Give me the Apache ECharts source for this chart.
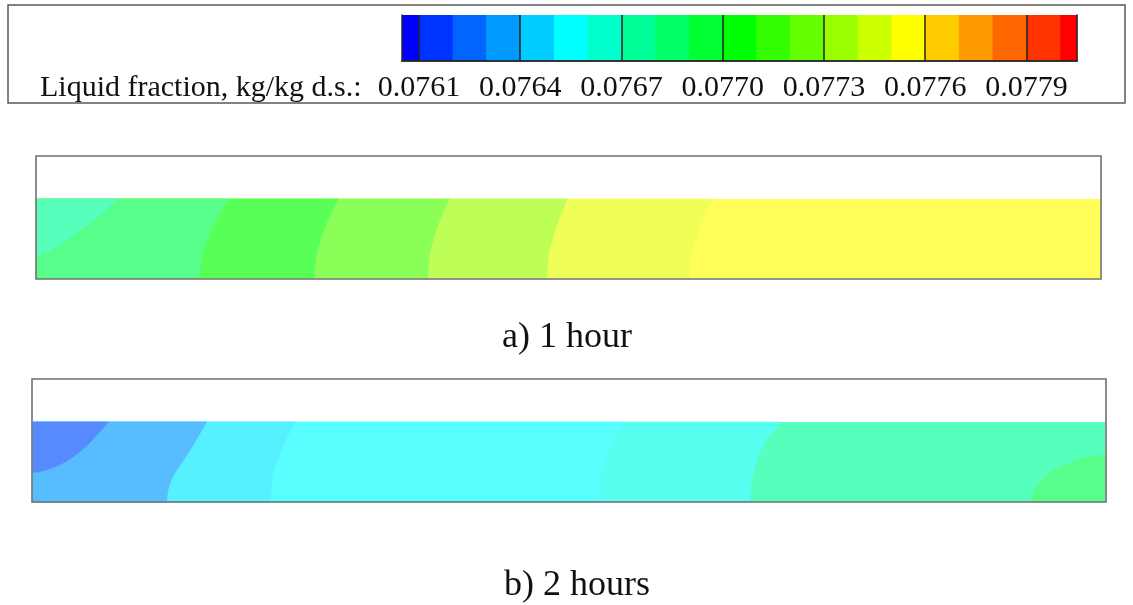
<!DOCTYPE html>
<html>
<head>
<meta charset="utf-8">
<script src="https://cdn.jsdelivr.net/npm/echarts@6/dist/echarts.min.js"></script>
<style>
  html, body { margin: 0; padding: 0; background: #ffffff; }
  #chart { width: 1133px; height: 605px; }
</style>
</head>
<body>
<div id="chart"></div>
<script>
// Liquid fraction contour levels, kg/kg d.s.
const colorbarRange = [0.07605, 0.07805];
const contourLevels = [0.0761, 0.0762, 0.0763, 0.0764, 0.0765, 0.0766, 0.0767, 0.0768, 0.0769, 0.0770,
                       0.0771, 0.0772, 0.0773, 0.0774, 0.0775, 0.0776, 0.0777, 0.0778, 0.0779, 0.0780];
const levelColors = ['#0000ff', '#0033ff', '#0066ff', '#0099ff', '#00ccff', '#00ffff', '#00ffcc',
                     '#00ff99', '#00ff66', '#00ff33', '#00ff00', '#33ff00', '#66ff00', '#99ff00',
                     '#ccff00', '#ffff00', '#ffcc00', '#ff9900', '#ff6600', '#ff3300', '#ff0000'];
const tickLabels = [0.0761, 0.0764, 0.0767, 0.0770, 0.0773, 0.0776, 0.0779];

// Bed after 1 hour. Coordinates: x along the bed (0..1), y up the bed height (0..1).
// Each isoline is filled with its band value on the side towards the left wall / corner.
const hour1Base = 0.07745;
const hour1Fill = [0.07735, 0.07725, 0.07715, 0.07705, 0.07695, 0.07685];
const hour1Lines = [
  [[0.6362, 1], [0.6279, 0.78], [0.6204, 0.52], [0.6154, 0.27], [0.6136, 0]],
  [[0.4992, 1], [0.4919, 0.78], [0.4854, 0.52], [0.4811, 0.27], [0.4795, 0]],
  [[0.3879, 1], [0.3802, 0.78], [0.3734, 0.52], [0.3689, 0.27], [0.3672, 0]],
  [[0.2834, 1], [0.2750, 0.78], [0.2675, 0.52], [0.2625, 0.27], [0.2606, 0]],
  [[0.1809, 1], [0.1705, 0.78], [0.1612, 0.52], [0.1550, 0.27], [0.1527, 0]],
  [[0.0755, 1], [0.0577, 0.776], [0.0373, 0.566], [0.0185, 0.395], [0, 0.278]]
];

// Bed after 2 hours
const hour2Base = 0.07685;
const hour2Fill = [0.07675, 0.07655, 0.07635, 0.07625, 0.07615, 0.07695];
const hour2Lines = [
  [[0.6984, 1], [0.6844, 0.78], [0.6751, 0.52], [0.6704, 0.27], [0.6688, 0]],
  [[0.5507, 1], [0.5413, 0.78], [0.5336, 0.52], [0.5289, 0.27], [0.5273, 0]],
  [[0.2444, 1], [0.2366, 0.80], [0.2288, 0.55], [0.2232, 0.30], [0.2214, 0]],
  [[0.1620, 1], [0.1511, 0.751], [0.1402, 0.519], [0.1309, 0.329], [0.1262, 0.161], [0.1247, 0]],
  [[0.0703, 1], [0.0594, 0.835], [0.0454, 0.646], [0.0268, 0.477], [0.0081, 0.384], [0, 0.371]],
  [[0.9307, 0], [0.9363, 0.203], [0.9518, 0.392], [0.9736, 0.519], [0.9890, 0.57], [1, 0.59]]
];

const FONT = '"Liberation Serif", "Times New Roman", serif';

// band edges and the lighter shade used inside the bed plots
const bandEdges = [colorbarRange[0]].concat(contourLevels, [colorbarRange[1]]);
function lighten(hex) {
  const n = parseInt(hex.slice(1), 16);
  const ch = [(n >> 16) & 255, (n >> 8) & 255, n & 255].map(c => Math.min(255, c + 0x57));
  return 'rgb(' + ch.join(',') + ')';
}
const barPieces = levelColors.map((c, i) => ({ gte: bandEdges[i], lt: bandEdges[i + 1], color: c }));
const fieldPieces = levelColors.map((c, i) => ({ gte: bandEdges[i], lt: bandEdges[i + 1], color: lighten(c) }));

// position of a boundary point along the domain perimeter (counter-clockwise from (0,0))
function perim(p) {
  const e = 1e-6;
  if (p[1] <= e) return p[0];
  if (p[0] >= 1 - e) return 1 + p[1];
  if (p[1] >= 1 - e) return 2 + (1 - p[0]);
  return 3 + (1 - p[1]);
}
const cornerPts = [[0, 0], [1, 0], [1, 1], [0, 1]];

function regionPath(pts, api) {
  const px = pts.map(p => api.coord(p));
  let d = 'M' + px[0][0] + ' ' + px[0][1];
  for (let i = 0; i < px.length - 1; i++) {
    const p0 = px[i - 1] || px[i], p1 = px[i], p2 = px[i + 1], p3 = px[i + 2] || px[i + 1];
    const c1 = [p1[0] + (p2[0] - p0[0]) / 6, p1[1] + (p2[1] - p0[1]) / 6];
    const c2 = [p2[0] - (p3[0] - p1[0]) / 6, p2[1] - (p3[1] - p1[1]) / 6];
    d += ' C' + c1[0] + ' ' + c1[1] + ' ' + c2[0] + ' ' + c2[1] + ' ' + p2[0] + ' ' + p2[1];
  }
  // walk back along the domain edge, clockwise, from the end of the isoline to its start
  const ts = perim(pts[0]);
  let te = perim(pts[pts.length - 1]);
  if (ts >= te) te += 4;
  for (let k = 7; k >= 0; k--) {
    if (k > ts && k < te) {
      const c = api.coord(cornerPts[k % 4]);
      d += ' L' + c[0] + ' ' + c[1];
    }
  }
  return d + ' Z';
}

function fieldSeries(gridIdx, base, fills, lines) {
  const data = [[base, -1]].concat(fills.map((v, i) => [v, i]));
  return {
    type: 'custom',
    xAxisIndex: gridIdx,
    yAxisIndex: gridIdx,
    silent: true,
    data: data,
    renderItem: function (params, api) {
      const idx = api.value(1);
      const color = api.visual('color');
      if (idx < 0) {
        const a = api.coord([0, 1]), b = api.coord([1, 0]);
        return { type: 'rect', shape: { x: a[0], y: a[1], width: b[0] - a[0], height: b[1] - a[1] },
                 style: { fill: color } };
      }
      return { type: 'path', shape: { pathData: regionPath(lines[idx], api) },
               style: { fill: color, stroke: color, lineWidth: 0.6 } };
    }
  };
}

const chart = echarts.init(document.getElementById('chart'));

const hiddenAxis = (g) => ({ type: 'value', gridIndex: g, min: 0, max: 1, show: false });
const plainLine = { show: true, lineStyle: { color: '#2a2a2a', width: 1.5 } };

chart.setOption({
  animation: false,
  backgroundColor: '#ffffff',
  grid: [
    { left: 402, top: 15, width: 675, height: 46 },
    { left: 37, top: 199, width: 1063, height: 79 },
    { left: 33, top: 422, width: 1072, height: 80 }
  ],
  xAxis: [
    {
      type: 'value', gridIndex: 0, position: 'bottom', min: colorbarRange[0], max: colorbarRange[1], z: 5,
      axisLine: plainLine,
      axisTick: { show: true, customValues: tickLabels, inside: true, length: 46,
                  lineStyle: { color: '#222', width: 1.5 } },
      axisLabel: { customValues: tickLabels, formatter: v => v.toFixed(4), margin: 12,
                   fontFamily: FONT, fontSize: 30, color: '#111' },
      splitLine: { show: false }
    },
    {
      type: 'value', gridIndex: 0, position: 'top', min: colorbarRange[0], max: colorbarRange[1], z: 5,
      axisLine: plainLine, axisTick: { show: false }, axisLabel: { show: false }, splitLine: { show: false }
    },
    hiddenAxis(1), hiddenAxis(2)
  ],
  yAxis: [
    { type: 'value', gridIndex: 0, min: 0, max: 1, position: 'left', z: 5, axisLine: plainLine,
      axisTick: { show: false }, axisLabel: { show: false }, splitLine: { show: false } },
    { type: 'value', gridIndex: 0, min: 0, max: 1, position: 'right', z: 5, axisLine: plainLine,
      axisTick: { show: false }, axisLabel: { show: false }, splitLine: { show: false } },
    hiddenAxis(1), hiddenAxis(2)
  ],
  visualMap: [
    { type: 'piecewise', show: false, seriesIndex: 0, dimension: 2, pieces: barPieces },
    { type: 'piecewise', show: false, seriesIndex: [1, 2], dimension: 0, pieces: fieldPieces }
  ],
  series: [
    {
      type: 'custom',
      xAxisIndex: 0,
      yAxisIndex: 0,
      silent: true,
      data: bandEdges.slice(0, -1).map((lo, i) => [lo, bandEdges[i + 1], (lo + bandEdges[i + 1]) / 2]),
      renderItem: function (params, api) {
        const a = api.coord([api.value(0), 1]);
        const b = api.coord([api.value(1), 0]);
        return { type: 'rect', shape: { x: a[0], y: a[1], width: b[0] - a[0] + 0.5, height: b[1] - a[1] },
                 style: { fill: api.visual('color') } };
      }
    },
    fieldSeries(2, hour1Base, hour1Fill, hour1Lines),
    fieldSeries(3, hour2Base, hour2Fill, hour2Lines)
  ],
  graphic: [
    { type: 'rect', z: 10, shape: { x: 8, y: 5, width: 1117, height: 98 },
      style: { fill: null, stroke: '#5a5a5a', lineWidth: 1.5 } },
    { type: 'rect', z: 10, shape: { x: 36, y: 156, width: 1065, height: 123 },
      style: { fill: null, stroke: '#707070', lineWidth: 1.6 } },
    { type: 'rect', z: 10, shape: { x: 32, y: 379, width: 1074, height: 123 },
      style: { fill: null, stroke: '#707070', lineWidth: 1.6 } },
    { type: 'text', z: 10, x: 40, y: 88,
      style: { text: 'Liquid fraction, kg/kg d.s.:', font: '30px ' + FONT, fill: '#111',
               textAlign: 'left', textVerticalAlign: 'middle' } },
    { type: 'text', z: 10, x: 567, y: 338,
      style: { text: 'a) 1 hour', font: '36px ' + FONT, fill: '#111',
               textAlign: 'center', textVerticalAlign: 'middle' } },
    { type: 'text', z: 10, x: 577, y: 586,
      style: { text: 'b) 2 hours', font: '36px ' + FONT, fill: '#111',
               textAlign: 'center', textVerticalAlign: 'middle' } }
  ]
});
</script>
</body>
</html>
